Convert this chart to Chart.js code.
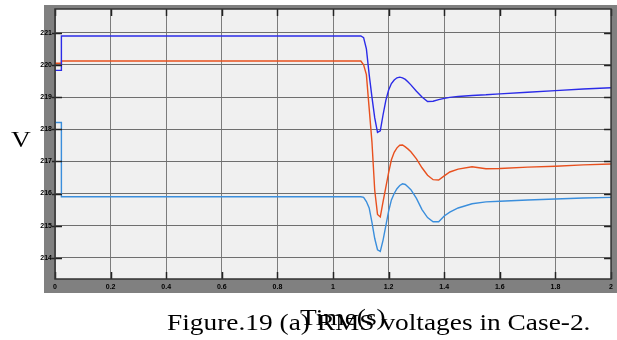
<!DOCTYPE html>
<html>
<head>
<meta charset="utf-8">
<title>RMS voltages</title>
<style>
  html, body { margin: 0; padding: 0; background: #fff; }
  #wrap { width: 617px; height: 340px; position: relative; }
</style>
</head>
<body>
<div id="wrap"><canvas id="chart" width="617" height="340"></canvas></div>
<script src="https://cdn.jsdelivr.net/npm/chart.js"></script>
<script>
// simulation time (s)
var time = [0, 0.023, 0.023, 1.10, 1.11, 1.12, 1.13, 1.14, 1.15, 1.16, 1.17, 1.18, 1.19, 1.20,
            1.21, 1.22, 1.23, 1.24, 1.25, 1.26, 1.27, 1.28, 1.30, 1.32, 1.34, 1.36, 1.38,
            1.40, 1.42, 1.45, 1.50, 1.55, 1.60, 1.70, 1.80, 1.90, 2.00];

// RMS voltage of each phase (V)
var vBlue = [219.83, 219.83, 220.9, 220.9, 220.85, 220.5, 219.7, 219.0, 218.35, 217.9, 217.95, 218.45, 218.9, 219.22,
             219.42, 219.53, 219.6, 219.62, 219.6, 219.55, 219.47, 219.38, 219.18, 219.0, 218.86, 218.87, 218.92,
             218.96, 218.99, 219.02, 219.05, 219.07, 219.1, 219.15, 219.2, 219.25, 219.29];
var vRed = [220.05, 220.05, 220.12, 220.12, 220.0, 219.7, 218.65, 217.6, 216.1, 215.35, 215.27, 215.75, 216.2, 216.65,
            217.05, 217.28, 217.42, 217.5, 217.51, 217.45, 217.38, 217.3, 217.08, 216.8, 216.57, 216.43, 216.42,
            216.55, 216.67, 216.76, 216.83, 216.77, 216.78, 216.82, 216.85, 216.89, 216.92];
var vCyan = [218.21, 218.21, 215.9, 215.9, 215.88, 215.75, 215.55, 215.1, 214.6, 214.25, 214.2, 214.55, 215.0, 215.45,
             215.8, 216.0, 216.15, 216.25, 216.3, 216.28, 216.2, 216.12, 215.85, 215.5, 215.25, 215.12, 215.12,
             215.3, 215.42, 215.55, 215.68, 215.74, 215.76, 215.8, 215.83, 215.86, 215.88];

var xTicks = [0, 0.2, 0.4, 0.6, 0.8, 1, 1.2, 1.4, 1.6, 1.8, 2];
var yTicks = [214, 215, 216, 217, 218, 219, 220, 221];

function pts(vals) {
  return time.map(function (t, i) { return { x: t, y: vals[i] }; });
}

// serif text, slightly widened
function wideText(c, txt, x, y) {
  c.save();
  c.translate(x, y);
  c.scale(1.19, 1);
  c.fillText(txt, 0, 0);
  c.restore();
}

// grey scope frame, plot face, inner tick marks and caption text
var scopeFrame = {
  id: 'scopeFrame',
  beforeDraw: function (chart) {
    var c = chart.ctx, a = chart.chartArea;
    c.save();
    c.fillStyle = '#808080';
    c.fillRect(44, 5, 573, 288);
    c.fillStyle = '#f0f0f0';
    c.fillRect(a.left, a.top, a.right - a.left, a.bottom - a.top);
    c.restore();
  },
  afterDraw: function (chart) {
    var c = chart.ctx, a = chart.chartArea;
    var xs = chart.scales.x, ys = chart.scales.y;
    c.save();
    c.strokeStyle = '#222';
    c.lineWidth = 1.5;
    c.beginPath();
    xTicks.forEach(function (v) {
      var px = Math.round(xs.getPixelForValue(v)) + 0.5;
      c.moveTo(px, a.bottom); c.lineTo(px, a.bottom - 7);
      c.moveTo(px, a.top); c.lineTo(px, a.top + 7);
    });
    yTicks.forEach(function (v) {
      var py = Math.round(ys.getPixelForValue(v)) + 0.5;
      c.moveTo(a.left - 3, py); c.lineTo(a.left + 7, py);
      c.moveTo(a.right, py); c.lineTo(a.right - 7, py);
    });
    c.stroke();
    c.strokeStyle = '#333';
    c.lineWidth = 1.5;
    c.strokeRect(a.left, a.top, a.right - a.left, a.bottom - a.top);

    c.fillStyle = '#000';
    c.font = '23px "Liberation Serif", "Times New Roman", serif';
    c.textBaseline = 'alphabetic';
    c.textAlign = 'left';
    wideText(c, 'V', 11, 147);
    wideText(c, 'Figure.19 (a) RMS voltages in Case-2.', 167, 330);
    wideText(c, 'Time(s)', 300, 325);
    c.restore();
  }
};

new Chart(document.getElementById('chart'), {
  type: 'line',
  data: {
    datasets: [
      { data: pts(vBlue), borderColor: '#2b2be8', borderWidth: 1.4 },
      { data: pts(vRed), borderColor: '#e8501e', borderWidth: 1.4 },
      { data: pts(vCyan), borderColor: '#3a8edc', borderWidth: 1.4 }
    ]
  },
  options: {
    responsive: false,
    animation: false,
    layout: { padding: { left: 0, right: 5, top: 9, bottom: 47 } },
    elements: { point: { radius: 0 }, line: { tension: 0 } },
    plugins: { legend: { display: false }, tooltip: { enabled: false } },
    scales: {
      x: {
        type: 'linear', min: 0, max: 2,
        afterBuildTicks: function (s) { s.ticks = xTicks.map(function (v) { return { value: v }; }); },
        afterFit: function (s) { s.height = 14; },
        grid: { color: '#7c7c7c', lineWidth: 1, drawTicks: false },
        border: { display: false },
        ticks: { color: '#000', padding: 4, maxRotation: 0, autoSkip: false,
                 callback: function (v) { return String(v); },
                 font: { family: 'Arial', size: 7, weight: 'bold' } }
      },
      y: {
        type: 'linear', min: 213.34, max: 221.74,
        afterBuildTicks: function (s) { s.ticks = yTicks.map(function (v) { return { value: v }; }); },
        afterFit: function (s) { s.width = 55; },
        grid: { color: '#6e6e6e', lineWidth: 1, drawTicks: false },
        border: { display: false },
        ticks: { color: '#000', padding: 3, autoSkip: false,
                 callback: function (v) { return String(v); },
                 font: { family: 'Arial', size: 7, weight: 'bold' } }
      }
    }
  },
  plugins: [scopeFrame]
});
</script>
</body>
</html>
